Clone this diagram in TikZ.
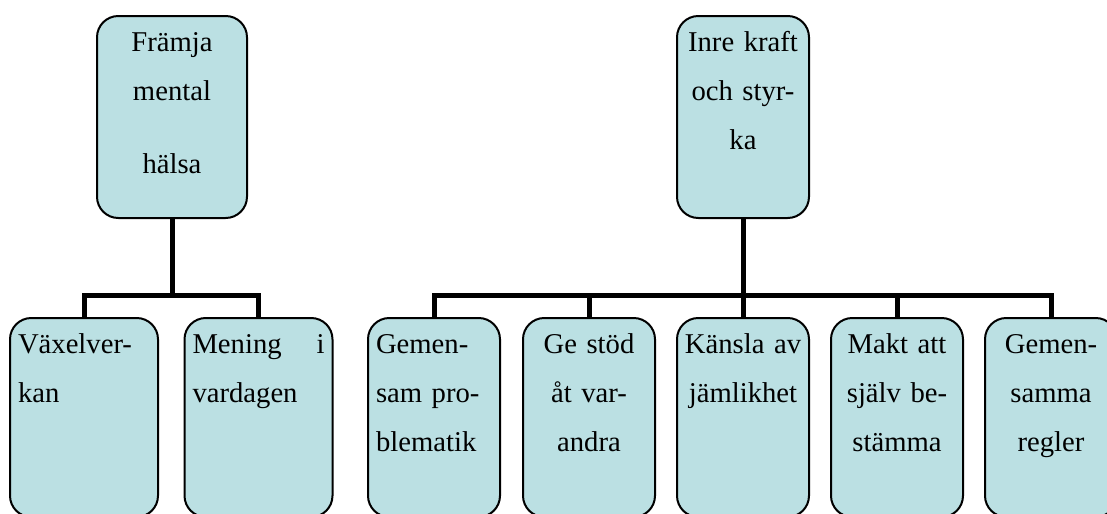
\documentclass[tikz,border=0pt]{standalone}
\usepackage{fontspec}
\setmainfont{Liberation Serif}
\usepackage{xcolor}
\usepackage{tikz}
\definecolor{boxfill}{RGB}{187,224,227}

\begin{document}
\begin{tikzpicture}[
    x=0.75pt, y=-0.75pt,
    box/.style={rectangle, draw, line width=1.5pt, rounded corners=16pt, fill=boxfill, anchor=north,
        inner xsep=6pt, inner ysep=0pt, text height=26.25pt, font=\fontsize{21.5}{37}\selectfont},
    head/.style={box, text depth=125.25pt},
    leaf/.style={box, text depth=123pt},
    narrow/.style={text width=91pt, inner xsep=4pt},
    branch/.style={line width=3.75pt}
]
\useasboundingbox (0,0) rectangle (1107,514);

\node[head, text width=100.5pt, align=center] (front) at (172,15) {Främja\\mental\\[18pt]hälsa};
\node[head, narrow, align=center] (inner) at (743,15) {Inre kraft\\och styr-\\ka};

\node[leaf, text width=99pt, align=left] (vaxel) at (84,317) {Växelver-\\kan};
\node[leaf, text width=99pt, align=left] (mening) at (258.5,317) {Mening\hfill i\\vardagen};
\node[leaf, narrow, align=left] (gemprob) at (434,317) {\hspace{2pt}Gemen-\\\hspace{2pt}sam pro-\\\hspace{2pt}blematik};
\node[leaf, narrow, align=center] (stod) at (589,317) {Ge stöd\\åt var-\\andra};
\node[leaf, narrow, align=center] (jamlik) at (743,317) {Känsla~av\\jämlikhet};
\node[leaf, narrow, align=center] (makt) at (897,317) {Makt att\\själv be-\\stämma};
\node[leaf, narrow, align=center] (regler) at (1051,317) {Gemen-\\samma\\regler};

\draw[branch] (front.south) -- ++(0,76) -| (vaxel.north);
\draw[branch] (front.south) -- ++(0,76) -| (mening.north);
\draw[branch] (inner.south) -- ++(0,76) -| (gemprob.north);
\draw[branch] (inner.south) -- ++(0,76) -| (stod.north);
\draw[branch] (inner.south) -- ++(0,76) -| (jamlik.north);
\draw[branch] (inner.south) -- ++(0,76) -| (makt.north);
\draw[branch] (inner.south) -- ++(0,76) -| (regler.north);
\end{tikzpicture}
\end{document}
